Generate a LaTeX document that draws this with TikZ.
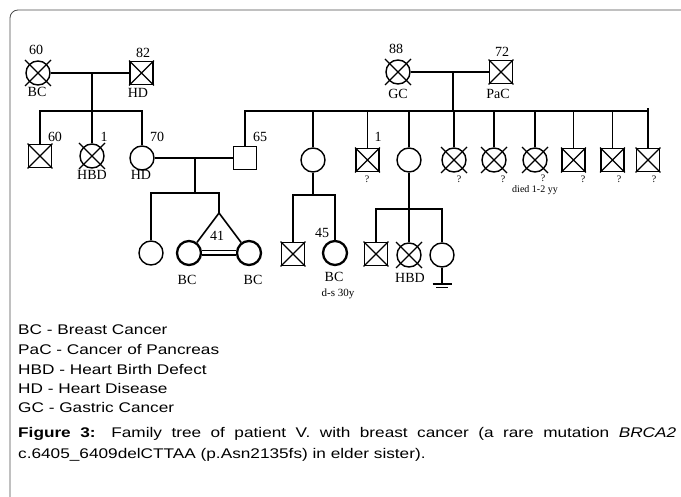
\documentclass[tikz,border=0pt]{standalone}
\usepackage{graphicx}
\usepackage{fontspec}
\setmainfont{Liberation Serif}
\newfontfamily\legfont{Liberation Sans}
\usetikzlibrary{positioning,calc}

\newcommand{\widetext}[1]{\scalebox{1.23}[1]{#1}}

\tikzset{
  fem/.style={draw, circle, minimum size=24pt, inner sep=0pt, line width=1.4pt},
  mal/.style={draw, rectangle, minimum size=23pt, inner sep=0pt, line width=1.8pt},
  proband/.style={fem, line width=2.3pt},
  kin/.style={line width=2.2pt},
  sib/.style={line width=1.6pt},
  lbl/.style={inner sep=0pt, font=\fontsize{14}{14}\selectfont},
  qlbl/.style={inner sep=0pt, font=\fontsize{10}{10}\selectfont},
  leg/.style={anchor=base west, inner sep=0pt, font=\legfont\fontsize{14}{14}\selectfont},
}

\begin{document}
\begin{tikzpicture}[x=1pt, y=-1pt]
  \useasboundingbox (0,0) rectangle (681,497);
  \draw[line width=0.8pt, black!70, rounded corners=8pt] (10,497) -- (10,10) -- (681,10);

  % generation I
  \node[fem] (gmA) at (38,73) {};
  \node[mal] (gfA) at (141.5,73) {};
  \node[fem] (gmB) at (398,72) {};
  \node[mal] (gfB) at (501,72) {};

  % generation II
  \node[mal] (uA) at (40,156) {};
  \node[fem] (aA) at (92,156) {};
  \node[fem] (mo) at (142,158) {};
  \node[mal] (fa) at (245,158) {};
  \node[fem] (c1) at (313,160) {};
  \node[mal] (c2) at (367.5,160) {};
  \node[fem] (c3) at (409,160) {};
  \node[fem] (c4) at (454,160) {};
  \node[fem] (c5) at (494,160) {};
  \node[fem] (c6) at (535,160) {};
  \node[mal] (c7) at (573.5,160) {};
  \node[mal] (c8) at (612.5,160) {};
  \node[mal] (c9) at (648,160) {};

  % generation III
  \node[fem] (d1) at (151,253) {};
  \node[proband] (tw1) at (189,253) {};
  \node[proband] (tw2) at (249,253) {};
  \node[mal] (e1) at (293,254) {};
  \node[proband] (e2) at (335,253) {};
  \node[mal] (f1) at (376,254) {};
  \node[fem] (f2) at (409,255) {};
  \node[fem] (f3) at (442,255) {};

  % deceased
  \foreach \n in {gmA, aA, gmB, c4, c5, c6, f2}
    \draw[line width=1.4pt] ($(\n)+(-13,-13)$) -- ($(\n)+(13,13)$)
                            ($(\n)+(-13,13)$) -- ($(\n)+(13,-13)$);
  \foreach \n in {gfA, gfB, uA, c2, c7, c8, c9, e1, f1}
    \draw[line width=1.4pt] (\n.north west) -- (\n.south east)
                            (\n.north east) -- (\n.south west);

  % junctions
  \coordinate (mA) at (92,73);
  \coordinate (sA) at (92,111);
  \coordinate (mB) at (453,72);
  \coordinate (sB) at (453,111);
  \coordinate (sBend) at (648,111);
  \coordinate (mC) at (195,158);
  \coordinate (sC) at (195,193);
  \coordinate (tA) at (219,213);
  \coordinate (sD) at (313,195);
  \coordinate (sE) at (409,209);

  % left family
  \draw[kin] (gmA) -- (gfA);
  \draw[kin] (mA) -- (sA);
  \draw[sib] (uA.north) |- (sA) -| (mo.north);
  \draw[sib] (sA) -- (aA);

  % right family
  \draw[kin] (gmB) -- (gfB);
  \draw[kin] (mB) -- (sB);
  \draw[kin] (fa.north) |- (sBend);
  \foreach \n in {c1, c2, c3, c4, c5, c6, c7, c8}
    \draw[sib] (\n.north) -- (\n.north |- sB);
  \draw[sib] (c9.north) -- ($(c9.north |- sB)+(0,-3)$);

  % parents of the proband
  \draw[kin] (mo) -- (fa);
  \draw[kin] (mC) -- (sC);
  \draw[sib] (d1.north) |- (sC) -| (tA);
  \draw[sib] (tw1) -- (tA) -- (tw2);
  \draw[double, double distance=3pt, line width=1.3pt] (tw1) -- (tw2);

  % aunt with two children
  \draw[kin] (c1) -- (sD);
  \draw[sib] (e1.north) |- (sD) -| (e2.north);

  % aunt with three children
  \draw[kin] (c3) -- (sE);
  \draw[sib] (f1.north) |- (sE) -| (f3.north);
  \draw[sib] (sE) -- (f2);
  \coordinate (nf) at (442,284);
  \draw[sib] (f3.south) -- (nf);
  \draw[kin] ($(nf)+(-9.5,0)$) -- ($(nf)+(9.5,0)$);
  \draw[line width=1pt] ($(nf)+(-6,4)$) -- ($(nf)+(6,4)$);

  % ages and diagnoses
  \node[lbl] (gmAage) at (36,50) {60};
  \node[lbl] (gmAdx) at (37,92) {BC};
  \node[lbl] (gfAage) at (143,53) {82};
  \node[lbl] (gfAdx) at (138,93) {HD};
  \node[lbl] (gmBage) at (396,49) {88};
  \node[lbl] (gmBdx) at (398,94) {GC};
  \node[lbl] (gfBage) at (502,52) {72};
  \node[lbl] (gfBdx) at (498,94) {PaC};

  \node[lbl] (uAage) at (55,137) {60};
  \node[lbl] (aAage) at (104,137) {1};
  \node[lbl] (aAdx) at (92,175) {HBD};
  \node[lbl] (moage) at (157,137) {70};
  \node[lbl] (modx) at (141,175) {HD};
  \node[lbl] (faage) at (260,137) {65};
  \node[lbl] (c2age) at (378,137) {1};
  \node[qlbl] (c2q) at (367,179) {?};
  \node[qlbl] (c4q) at (459,179) {?};
  \node[qlbl] (c5q) at (503,179) {?};
  \node[qlbl] (c6q) at (543,178) {?};
  \node[qlbl] (c7q) at (583,179) {?};
  \node[qlbl] (c8q) at (619,179) {?};
  \node[qlbl] (c9q) at (654,179) {?};
  \node[qlbl] (died) at (535,190) {died 1-2 yy};

  \node[lbl] (twage) at (217,236) {41};
  \node[lbl] (tw1dx) at (187,280) {BC};
  \node[lbl] (tw2dx) at (253,280) {BC};
  \node[lbl] (e2age) at (322,233) {45};
  \node[lbl] (e2dx) at (334,277) {BC};
  \node[qlbl, font=\fontsize{11}{11}\selectfont] (e2ds) at (338,294) {d-s 30y};
  \node[lbl] (f2dx) at (410,278) {HBD};

  % legend and caption
  \node[leg] (legBC) at (18,335) {\widetext{BC - Breast Cancer}};
  \node[leg] (legPaC) at (18,355) {\widetext{PaC - Cancer of Pancreas}};
  \node[leg] (legHBD) at (18,374.5) {\widetext{HBD - Heart Birth Defect}};
  \node[leg] (legHD) at (18,394) {\widetext{HD - Heart Disease}};
  \node[leg] (legGC) at (18,413) {\widetext{GC - Gastric Cancer}};
  \node[leg] (capA) at (18,438) {\widetext{\hbox to 535pt{\textbf{Figure 3:} Family tree of patient V. with breast cancer (a rare mutation \textit{BRCA2}}}};
  \node[leg] (capB) at (18,458) {\widetext{c.6405\_6409delCTTAA (p.Asn2135fs) in elder sister).}};
\end{tikzpicture}
\end{document}
